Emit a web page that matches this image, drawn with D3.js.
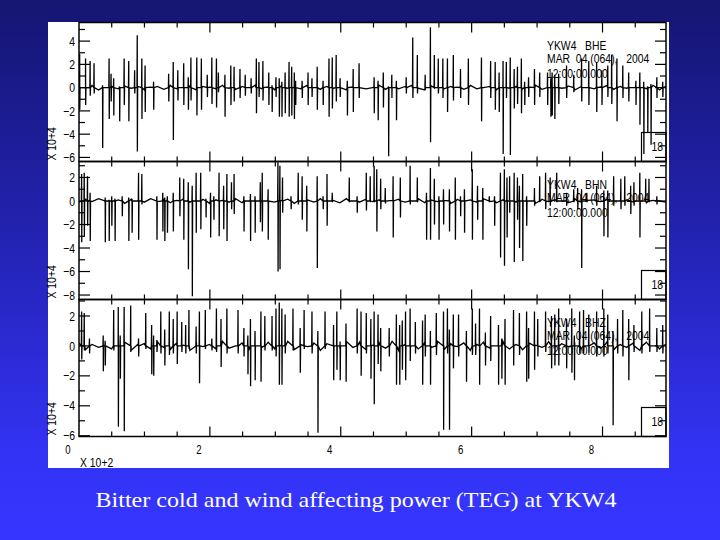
<!DOCTYPE html>
<html><head><meta charset="utf-8">
<script src="https://cdn.jsdelivr.net/npm/d3@7"></script>
<style>html,body{margin:0;padding:0;} svg{display:block;}</style>
</head><body>
<svg id="chart" width="720" height="540"></svg>
<script>
// ---------------- DATA ----------------
const station = "YKW4";
const channels = ["BHE", "BHN", "BHZ"];
const dateLabel = "MAR  04 (064),   2004";
const timeLabel = "12:00:00.000";
const boxLabel = "18";
const yScaleLabel = "X 10+4";
const xScaleLabel = "X 10+2";
const xTickLabels = [0, 2, 4, 6, 8];
const xDomain = [0, 8.97];
const yTicksE = [4, 2, 0, -2, -4, -6];
const yTicksN = [2, 0, -2, -4, -6, -8];
const yTicksZ = [2, 0, -2, -4, -6];
const yDomainE = [-6.35, 5.6];
const yDomainN = [-8.38, 3.36];
const yDomainZ = [-6.05, 3.1];
const caption = "Bitter cold and wind affecting power (TEG) at YKW4";

// spikes: [time (x10^2), max (x10^4), min (x10^4)]
const spikesE = [
[0.01,2.9,-1.9],[0.10,2.5,-1.5],[0.17,2.3,-0.7],[0.23,2.1,-0.5],[0.36,0.2,-5.2],[0.46,2.5,-2.7],[0.49,1.2,-1.2],[0.53,0.8,-2.4],
[0.62,0.1,-2.9],[0.69,2.5,-1.5],[0.76,2.3,-2.9],[0.85,1.5,-0.5],[0.89,4.5,-5.5],[0.96,2.5,-2.7],[1.01,1.9,-2.1],[1.14,0.5,-1.9],
[1.37,1.2,-1.2],[1.44,2.2,-4.5],[1.51,1.5,-1.1],[1.60,2.1,-1.5],[1.67,0.9,-1.9],[1.71,2.6,-1.1],[1.80,2.6,-2.4],[1.87,2.5,-1.9],
[1.96,1.1,-0.8],[2.03,2.6,-1.4],[2.10,2.5,-1.7],[2.13,1.3,-0.4],[2.23,1.1,-2.5],[2.32,1.9,-1.5],[2.37,1.8,-1.2],[2.46,1.6,-0.9],
[2.54,1.1,-0.7],[2.63,0.8,-0.5],[2.71,2.5,-2.2],[2.75,2.2,-0.8],[2.81,2.3,-1.1],[2.90,1.3,-1.5],[2.95,0.2,-2.1],[3.01,0.9,-0.8],
[3.06,0.8,-2.5],[3.10,0.5,-2.5],[3.15,1.3,-2.2],[3.21,2.2,-2.5],[3.25,1.8,-2.4],[3.29,1.3,-2.7],[3.31,0.6,-1.5],[3.41,0.6,-0.9],
[3.50,1.3,-1.5],[3.56,0.8,-0.8],[3.64,1.8,-1.9],[3.73,0.6,-1.5],[3.82,2.5,-2.5],[3.87,2.6,-1.8],[3.93,2.8,-1.2],[3.99,0.8,-0.8],
[4.10,0.6,-2.4],[4.19,1.6,-2.1],[4.28,2.1,-0.9],[4.51,0.9,-2.2],[4.57,0.6,-2.8],[4.65,1.3,-1.7],[4.73,0.1,-5.9],[4.78,1.1,-0.9],
[4.85,0.6,-2.8],[5.00,0.9,-0.5],[5.10,4.3,-0.9],[5.17,2.8,-0.5],[5.29,1.1,-0.2],[5.37,5.2,-4.7],[5.43,2.8,-0.1],[5.49,2.5,-0.5],
[5.56,2.5,-0.9],[5.63,2.5,-2.1],[5.72,2.8,-1.1],[5.83,1.6,-0.9],[5.95,2.5,-1.5],[6.15,2.6,-2.9],[6.29,2.3,-0.9],[6.36,2.2,-1.9],
[6.42,1.3,-2.1],[6.48,2.3,-5.7],[6.53,2.2,-0.9],[6.59,2.6,-5.8],[6.65,1.6,-1.8],[6.70,1.8,-1.4],[6.76,2.5,-2.2],[6.81,0.5,-1.5],
[6.87,0.9,-0.8],[6.96,1.6,-1.5],[7.04,1.3,-0.8],[7.16,1.3,-1.5],[7.21,0.8,-2.5],[7.23,1.3,-2.4],[7.27,1.1,-2.7],[7.33,1.2,-1.4],
[7.45,1.9,-0.9],[7.56,1.1,-0.4],[7.68,2.5,-1.2],[7.79,2.3,-1.5],[7.91,2.2,-2.1],[7.99,1.5,-1.5],[8.08,1.9,-0.8],[8.14,2.8,-1.4],
[8.22,2.5,-2.9],[8.31,1.9,-0.9],[8.40,1.3,-1.2],[8.51,0.6,-1.5],[8.57,1.3,-3.2],[8.63,0.5,-5.7],[8.69,0.1,-3.9],[8.74,0.3,-4.9],
[8.83,0.9,-0.9],[8.92,0.5,-0.8]
];
const spikesN = [
[0.04,2.3,-3.5],[0.08,2.4,-3.0],[0.13,2.1,-2.1],[0.17,0.7,-3.4],[0.40,0.3,-3.5],[0.46,0.1,-3.4],[0.50,0.4,-2.1],[0.55,0.2,-3.4],
[0.66,0.4,-1.3],[0.76,0.3,-3.4],[0.81,0.2,-2.7],[0.91,2.4,-3.3],[0.96,2.3,-0.3],[1.19,0.4,-3.3],[1.28,0.7,-2.6],[1.31,0.3,-3.4],
[1.35,0.4,-2.7],[1.44,0.7,-2.6],[1.54,2.0,-1.3],[1.60,1.9,-3.3],[1.67,1.6,-5.8],[1.73,1.3,-8.1],[1.79,2.4,-2.7],[1.86,2.4,-2.4],
[1.94,0.2,-1.4],[2.01,0.7,-3.1],[2.06,0.4,-1.6],[2.14,2.4,-3.0],[2.21,1.3,-2.4],[2.26,2.3,-3.4],[2.33,1.6,-0.7],[2.37,2.3,-1.1],
[2.52,0.4,-2.6],[2.62,0.6,-3.4],[2.69,0.4,-2.7],[2.77,1.6,-1.8],[2.80,2.4,-2.6],[2.89,1.0,-3.3],[3.04,3.3,-6.0],[3.07,3.0,-5.8],
[3.11,2.0,-1.0],[3.24,0.4,-0.7],[3.35,2.4,-0.3],[3.41,2.1,-1.6],[3.48,1.3,-2.6],[3.64,2.1,-5.7],[3.73,0.4,-0.7],[3.79,2.3,-2.1],
[3.87,0.7,-0.1],[4.13,2.0,-0.1],[4.25,0.4,-1.0],[4.39,2.4,-0.8],[4.45,2.1,-0.1],[4.51,3.0,-0.1],[4.55,2.7,-2.6],[4.61,1.9,-0.7],
[4.68,1.1,-0.1],[4.80,2.1,-3.1],[4.91,2.0,-1.4],[5.06,3.0,-0.3],[5.17,2.0,-0.1],[5.31,0.7,-3.3],[5.37,2.8,-3.3],[5.43,1.9,-2.0],
[5.50,0.4,-3.3],[5.57,1.0,-2.0],[5.66,1.0,-2.6],[5.75,2.0,-3.3],[5.83,0.4,-1.3],[5.89,1.0,-2.7],[6.01,2.7,-3.3],[6.09,1.3,-1.6],
[6.17,1.1,-3.3],[6.27,0.4,-0.1],[6.35,0.4,-2.1],[6.44,2.4,-4.8],[6.50,2.7,-5.5],[6.54,2.0,-3.1],[6.58,2.1,-1.0],[6.65,2.4,-5.2],
[6.70,2.0,-1.6],[6.73,1.3,-4.0],[6.78,2.3,-5.1],[6.84,0.4,-2.1],[6.96,1.1,-0.4],[7.04,2.1,-0.1],[7.13,2.4,-0.7],[7.20,2.0,-0.4],
[7.30,2.4,-0.1],[7.45,0.7,-0.4],[7.56,1.0,-0.1],[7.62,1.1,-0.7],[7.68,1.0,-5.7],[7.76,0.7,-0.1],[7.91,1.3,-0.4],[8.02,0.9,-3.0],
[8.08,0.9,-3.1],[8.17,2.1,-0.4],[8.28,1.9,-0.7],[8.34,2.1,-0.4],[8.43,1.3,-1.1],[8.48,1.6,-0.4],[8.57,2.4,-3.1],[8.66,1.9,-0.1],
[8.71,1.9,-0.1],[8.83,0.4,-0.3]
];
const spikesZ = [
[0.04,2.3,-0.9],[0.08,2.2,-0.3],[0.16,0.5,-0.5],[0.37,0.7,-1.7],[0.40,0.3,-1.3],[0.53,2.4,-0.3],[0.60,2.6,-5.4],[0.63,0.7,-2.2],
[0.69,2.6,-5.7],[0.79,2.7,-0.4],[0.91,0.5,-0.7],[1.02,2.2,-0.2],[1.11,1.4,-1.9],[1.14,0.7,-2.0],[1.19,0.4,-0.4],[1.25,2.3,-0.5],
[1.31,1.1,-1.3],[1.38,2.3,-0.6],[1.44,1.8,-0.5],[1.50,2.3,-1.2],[1.57,1.6,-0.4],[1.63,1.4,-0.5],[1.68,2.4,-0.2],[1.79,1.3,-0.5],
[1.84,2.3,-2.5],[1.93,2.4,-0.2],[2.03,0.5,-0.3],[2.10,2.5,-0.4],[2.17,1.8,-1.4],[2.26,2.5,-0.5],[2.43,2.4,-0.5],[2.52,1.2,-0.7],
[2.58,0.7,-1.9],[2.62,1.8,-2.7],[2.69,1.0,-2.3],[2.78,2.3,-2.4],[2.84,2.0,-0.3],[2.95,2.0,-0.3],[3.01,2.5,-0.7],[3.06,2.9,-2.6],
[3.10,2.5,-2.6],[3.15,2.1,-0.5],[3.27,2.5,-0.3],[3.38,1.2,-1.8],[3.44,2.4,-0.2],[3.56,2.3,-0.5],[3.65,1.0,-5.8],[3.76,2.3,-0.2],
[3.89,1.4,-2.3],[3.94,2.3,-1.6],[3.99,0.3,-2.3],[4.08,1.5,-2.4],[4.25,2.5,-0.5],[4.31,2.3,-2.0],[4.39,2.2,-0.5],[4.46,1.8,-2.2],
[4.51,2.3,-3.9],[4.57,2.1,-1.2],[4.61,1.2,-1.7],[4.74,1.2,-0.7],[4.85,2.1,-2.6],[4.90,1.4,-2.6],[4.94,1.7,-1.6],[4.99,2.3,-2.3],
[5.06,2.5,-1.0],[5.14,1.6,-0.5],[5.25,1.7,-2.6],[5.29,2.1,-0.7],[5.37,1.0,-2.6],[5.46,2.2,-0.6],[5.57,2.3,-5.6],[5.63,2.5,-0.5],
[5.66,1.1,-5.6],[5.72,2.1,-1.5],[5.80,2.1,-0.7],[5.92,1.0,-2.4],[6.01,2.5,-0.6],[6.06,1.5,-0.6],[6.12,2.5,-2.6],[6.21,0.9,-1.3],
[6.29,2.0,-1.0],[6.41,1.4,-2.6],[6.46,0.5,-2.2],[6.51,1.8,-2.6],[6.64,2.4,-1.3],[6.73,2.2,-0.6],[6.84,2.3,-2.4],[6.87,1.2,-2.2],
[6.96,2.3,-1.6],[7.01,1.8,-0.7],[7.13,2.3,-0.4],[7.22,2.0,-1.5],[7.27,2.1,-1.3],[7.33,2.5,-1.3],[7.45,1.8,-1.5],[7.53,2.5,-1.8],
[7.57,0.7,-2.3],[7.65,2.3,-0.5],[7.71,2.4,-0.5],[7.79,2.1,-0.5],[7.91,2.3,-0.7],[8.02,2.5,-0.7],[8.08,2.1,-0.5],[8.16,1.0,-5.3],
[8.23,1.8,-0.5],[8.31,2.4,-0.7],[8.40,1.8,-2.3],[8.48,1.4,-0.4],[8.60,2.3,-0.5],[8.72,2.5,-0.4],[8.83,1.2,-0.4],[8.92,1.4,-0.5]
];
// background trace between bursts (x10^4), equally spaced samples over the record
const noiseE = [0.1,-0.1,0.2,-0.2,0.0,0.1,-0.1,0.15,-0.05,0.1,-0.2,0.05,0.1,-0.15,0.2,-0.1,0.0,0.15,-0.2,0.1,
0.05,-0.1,0.2,-0.05,-0.15,0.1,0.0,0.2,-0.1,0.05,-0.2,0.15,-0.05,0.1,-0.1,0.2,0.0,-0.15,0.1,-0.05,
0.15,-0.2,0.05,0.1,-0.1,0.0,0.2,-0.15,0.05,-0.1,0.1,0.2,-0.05,-0.2,0.15,0.0,-0.1,0.1,0.05,-0.15,
0.2,-0.1,0.0,0.1,-0.2,0.15,-0.05,0.1,-0.1,0.05,0.2,-0.15,0.0,0.1,-0.05,0.15,-0.2,0.1,0.0,-0.1,
0.05,0.2,-0.15,0.1,-0.05,0.0,0.15,-0.1,0.2,-0.2,0.1];
const noiseN = [-0.1,0.15,-0.05,0.2,-0.15,0.05,0.1,-0.2,0.15,0.0,-0.1,0.2,-0.05,0.1,-0.15,0.05,0.2,-0.1,0.0,0.15,
-0.2,0.1,0.05,-0.1,0.2,-0.15,0.0,0.1,-0.05,0.2,-0.1,0.05,0.15,-0.2,0.0,0.1,-0.1,0.2,-0.05,0.05,
-0.15,0.2,0.0,-0.1,0.15,-0.05,0.1,-0.2,0.05,0.15,-0.1,0.0,0.2,-0.15,0.1,-0.05,0.05,-0.2,0.15,0.0,
0.1,-0.1,0.2,-0.05,-0.15,0.1,0.05,-0.1,0.2,0.0,-0.2,0.15,-0.05,0.1,0.0,-0.15,0.2,-0.1,0.05,0.1,
-0.05,0.15,-0.2,0.0,0.1,-0.1,0.2,-0.15,0.05,0.0,-0.1];
const noiseZ = [0.2,-0.25,0.1,-0.1,0.3,-0.2,0.0,0.25,-0.3,0.1,0.15,-0.2,0.3,-0.1,-0.25,0.2,0.05,-0.3,0.25,-0.05,
0.1,-0.2,0.3,-0.15,0.0,0.2,-0.3,0.15,-0.1,0.25,-0.2,0.05,0.3,-0.25,0.1,-0.05,0.2,-0.3,0.15,0.0,
-0.2,0.3,-0.1,0.25,-0.25,0.05,0.2,-0.15,0.3,-0.3,0.1,0.0,-0.2,0.25,-0.1,0.3,-0.25,0.15,-0.05,0.2,
-0.3,0.1,0.25,-0.15,0.0,0.3,-0.2,0.1,-0.25,0.2,0.05,-0.1,0.3,-0.3,0.15,-0.05,0.25,-0.2,0.0,0.2,
-0.15,0.3,-0.25,0.1,-0.1,0.2,-0.3,0.25,0.0,-0.2,0.1];

// ---------------- LAYOUT ----------------
const W = 720, H = 540;
const plotL = 79, plotR = 666;
const panels = [
  {ch: channels[0], spikes: spikesE, noise: noiseE, dom: yDomainE, ticks: yTicksE, top: 22.5, bottom: 161.5},
  {ch: channels[1], spikes: spikesN, noise: noiseN, dom: yDomainN, ticks: yTicksN, top: 161.5, bottom: 299.5},
  {ch: channels[2], spikes: spikesZ, noise: noiseZ, dom: yDomainZ, ticks: yTicksZ, top: 299.5, bottom: 436.5}
];
const plotFont = "'Liberation Sans',Arial,sans-serif";

// narrow-looking plot text: horizontally compressed
function ptext(parent, x, y, str, anchor, rotate, size) {
  return parent.append("text")
    .attr("transform", `translate(${x},${y})` + (rotate ? ` rotate(${rotate})` : "") + " scale(0.8,1)")
    .attr("font-family", plotFont).attr("font-size", size || 13)
    .attr("text-anchor", anchor || "start")
    .style("white-space", "pre")
    .text(str);
}

const svg = d3.select("#chart");
const defs = svg.append("defs");
const grad = defs.append("linearGradient").attr("id", "bg").attr("x1", 0).attr("y1", 0).attr("x2", 0).attr("y2", 1);
grad.append("stop").attr("offset", "0%").attr("stop-color", "#151572");
grad.append("stop").attr("offset", "45%").attr("stop-color", "#2323b4");
grad.append("stop").attr("offset", "85%").attr("stop-color", "#3333f6");
grad.append("stop").attr("offset", "100%").attr("stop-color", "#3535ff");
svg.append("rect").attr("width", W).attr("height", H).attr("fill", "url(#bg)");

svg.append("rect").attr("x", 48).attr("y", 22).attr("width", 621).attr("height", 446).attr("fill", "#ffffff");

const x = d3.scaleLinear().domain(xDomain).range([plotL, plotR]);
const xMinor = d3.range(0.5, xDomain[1], 0.5);

panels.forEach((p, i) => {
  const y = d3.scaleLinear().domain(p.dom).range([p.bottom, p.top]);
  const g = svg.append("g");
  const clipId = "clip" + i;
  defs.append("clipPath").attr("id", clipId).append("rect")
    .attr("x", plotL).attr("y", p.top).attr("width", plotR - plotL).attr("height", p.bottom - p.top);

  // build trace points
  const pts = [];
  const n = p.noise.length;
  p.noise.forEach((v, k) => pts.push([xDomain[1] * k / (n - 1), v]));
  p.spikes.forEach(s => {
    pts.push([s[0] - 0.004, 0]);
    pts.push([s[0], s[1]]);
    pts.push([s[0] + 0.002, s[2]]);
    pts.push([s[0] + 0.006, 0]);
  });
  pts.sort((a, b) => a[0] - b[0]);
  const line = d3.line().x(d => x(d[0])).y(d => y(d[1]));
  g.append("path").attr("clip-path", `url(#${clipId})`)
    .attr("d", line(pts)).attr("fill", "none").attr("stroke", "#000").attr("stroke-width", 1.3);

  // frame
  g.append("rect").attr("x", plotL).attr("y", p.top).attr("width", plotR - plotL).attr("height", p.bottom - p.top)
    .attr("fill", "none").attr("stroke", "#000").attr("stroke-width", 1.5);

  // x ticks (inward, top and bottom)
  xMinor.forEach(t => {
    const major = Math.abs(t % 2) < 1e-6;
    const len = major ? 10 : 5;
    g.append("line").attr("x1", x(t)).attr("x2", x(t)).attr("y1", p.bottom).attr("y2", p.bottom - len).attr("stroke", "#000").attr("stroke-width", 1.2);
    g.append("line").attr("x1", x(t)).attr("x2", x(t)).attr("y1", p.top).attr("y2", p.top + len).attr("stroke", "#000").attr("stroke-width", 1.2);
  });

  // y ticks (inward, left and right)
  const yInts = d3.range(Math.ceil(p.dom[0]), Math.floor(p.dom[1]) + 1);
  yInts.forEach(t => {
    const major = p.ticks.includes(t);
    const len = major ? 11 : 6;
    if (y(t) > p.bottom - 0.5 || y(t) < p.top + 0.5) return;
    g.append("line").attr("x1", plotL).attr("x2", plotL + len).attr("y1", y(t)).attr("y2", y(t)).attr("stroke", "#000").attr("stroke-width", 1.2);
    g.append("line").attr("x1", plotR).attr("x2", plotR - len).attr("y1", y(t)).attr("y2", y(t)).attr("stroke", "#000").attr("stroke-width", 1.2);
  });
  p.ticks.forEach(t => {
    ptext(g, 75, y(t) + 4.6, t < 0 ? "\u2212" + Math.abs(t) : String(t), "end", 0, 13);
  });

  // y scale label
  ptext(g, 56, p.bottom - 1, yScaleLabel, "start", -90);

  // annotation
  ptext(g, 547, p.top + 27, station + "   " + p.ch);
  ptext(g, 547, p.top + 40.5, dateLabel);
  ptext(g, 547, p.top + 55, timeLabel);

  // number box
  g.append("rect").attr("x", 641.5).attr("y", p.bottom - 29).attr("width", plotR - 641.5).attr("height", 29)
    .attr("fill", "none").attr("stroke", "#000").attr("stroke-width", 1.2);
  ptext(g, 651.5, p.bottom - 11, boxLabel);
});

// x tick labels
const last = panels[2];
xTickLabels.forEach(t => {
  ptext(svg, x(t) - 11, last.bottom + 17, String(t), "middle", 0, 12);
});
ptext(svg, 80, 467, xScaleLabel);

// caption
svg.append("text").attr("x", 356).attr("y", 507).attr("text-anchor", "middle")
  .attr("font-family", "'Liberation Serif','Times New Roman',serif").attr("font-size", 22)
  .attr("fill", "#ffffff").attr("textLength", 521).attr("lengthAdjust", "spacingAndGlyphs")
  .text(caption);
</script>
</body></html>
